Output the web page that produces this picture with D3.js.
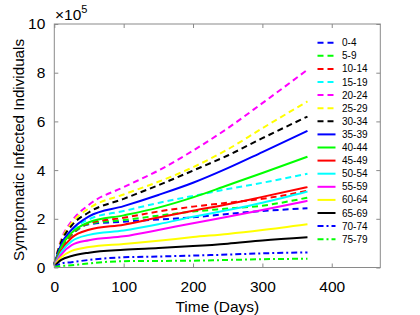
<!DOCTYPE html>
<html><head><meta charset="utf-8">
<script src="https://cdn.jsdelivr.net/npm/d3@7"></script>
<style>
body{margin:0;background:#fff;}
svg{display:block;font-family:"Liberation Sans",Arial,sans-serif;}
</style></head>
<body>
<svg id="c" width="420" height="315"></svg>
<script>
const days = [0,5,10,25,50,100,150,200,250,300,365];
const ageGroups = ["0-4","5-9","10-14","15-19","20-24","25-29","30-34","35-39","40-44","45-49","50-54","55-59","60-64","65-69","70-74","75-79"];
// values in units of 10^5
const s0_4   = [0.10,0.47,0.78,1.33,1.78,1.88,1.97,2.06,2.20,2.32,2.43];
const s5_9   = [0.11,0.48,0.80,1.35,1.80,1.95,2.13,2.30,2.42,2.54,2.87];
const s10_14 = [0.11,0.50,0.82,1.38,1.82,2.04,2.30,2.50,2.66,2.82,3.15];
const s15_19 = [0.12,0.55,0.88,1.50,1.98,2.32,2.65,2.94,3.22,3.48,3.85];
const s20_24 = [0.15,0.70,1.15,1.90,2.58,3.30,3.98,4.80,5.72,6.75,8.12];
const s25_29 = [0.15,0.68,1.10,1.82,2.43,3.00,3.52,4.12,4.85,5.72,6.82];
const s30_34 = [0.15,0.65,1.05,1.72,2.27,2.82,3.38,3.98,4.60,5.31,6.20];
const s35_39 = [0.13,0.58,0.95,1.55,2.10,2.52,2.98,3.48,4.08,4.74,5.61];
const s40_44 = [0.12,0.50,0.85,1.42,1.86,2.14,2.46,2.88,3.38,3.88,4.55];
const s45_49 = [0.10,0.42,0.70,1.22,1.55,1.76,2.05,2.33,2.60,2.90,3.30];
const s50_54 = [0.09,0.37,0.62,1.08,1.34,1.52,1.78,2.08,2.36,2.66,3.12];
const s55_59 = [0.08,0.32,0.53,0.92,1.12,1.28,1.54,1.82,2.08,2.36,2.74];
const s60_64 = [0.07,0.26,0.42,0.68,0.84,0.97,1.10,1.25,1.38,1.54,1.78];
const s65_69 = [0.06,0.20,0.31,0.47,0.61,0.73,0.80,0.88,0.98,1.11,1.24];
const s70_74 = [0.04,0.10,0.17,0.22,0.31,0.42,0.45,0.49,0.53,0.58,0.62];
const s75_79 = [0.02,0.04,0.06,0.09,0.17,0.26,0.27,0.28,0.31,0.34,0.36];
const seriesValues = [s0_4,s5_9,s10_14,s15_19,s20_24,s25_29,s30_34,s35_39,s40_44,s45_49,s50_54,s55_59,s60_64,s65_69,s70_74,s75_79];
const colors = ["#0000ff","#00ff00","#ff0000","#00ffff","#ff00ff","#ffff00","#000000","#0000ff","#00ff00","#ff0000","#00ffff","#ff00ff","#ffff00","#000000","#0000ff","#00ff00"];
const styles = ["dash","dash","dash","dash","dash","dash","dash","solid","solid","solid","solid","solid","solid","solid","dashdot","dashdot"];
const xTicks = [0,100,200,300,400];
const yTicks = [0,2,4,6,8,10];

const dashMap = {dash:"6,4", solid:null, dashdot:"6,3,2,3"};
const svg = d3.select("#c");
const L=54.3, R=380.3, T=24, B=267.5;
const x = d3.scaleLinear().domain([0,470]).range([L,R]);
const y = d3.scaleLinear().domain([0,10]).range([B,T]);
const axisColor = "#8a8a8a";
const fs = 15.5;

// series
const line = d3.line().x((d,i)=>x(days[i])).y(d=>y(d)).curve(d3.curveMonotoneX);
const g = svg.append("g");
seriesValues.forEach((vals,k)=>{
  g.append("path").attr("d",line(vals)).attr("fill","none")
   .attr("stroke",colors[k]).attr("stroke-width",2)
   .attr("stroke-dasharray",dashMap[styles[k]]);
});

// box
svg.append("rect").attr("x",L).attr("y",T).attr("width",R-L).attr("height",B-T)
  .attr("fill","none").attr("stroke",axisColor).attr("stroke-width",1);

// axes
const xa = svg.append("g").attr("transform",`translate(0,${B})`)
  .call(d3.axisBottom(x).tickValues(xTicks).tickSize(-4).tickPadding(10).tickFormat(d3.format("d")));
const xt = svg.append("g").attr("transform",`translate(0,${T})`)
  .call(d3.axisTop(x).tickValues(xTicks).tickSize(-4).tickFormat(""));
const ya = svg.append("g").attr("transform",`translate(${L},0)`)
  .call(d3.axisLeft(y).tickValues(yTicks).tickSize(-4).tickPadding(9).tickFormat(d3.format("d")));
const yr = svg.append("g").attr("transform",`translate(${R},0)`)
  .call(d3.axisRight(y).tickValues(yTicks).tickSize(-4).tickFormat(""));
[xa,xt,ya,yr].forEach(a=>{
  a.select(".domain").remove();
  a.selectAll(".tick line").attr("stroke",axisColor);
  a.selectAll("text").attr("fill","#000").style("font-size",fs+"px")
   .style("font-family",'"Liberation Sans",Arial,sans-serif');
});
xa.selectAll("text").attr("dy","0.95em");

// exponent
const ex = svg.append("text").attr("x",55).attr("y",19.5).style("font-size",fs+"px").attr("fill","#000");
ex.append("tspan").text("×10");
ex.append("tspan").attr("dy",-7).style("font-size","11px").text("5");

// axis labels
svg.append("text").attr("x",(L+R)/2).attr("y",311.5).attr("text-anchor","middle")
  .style("font-size",fs+"px").text("Time (Days)");
svg.append("text").attr("transform","translate(24,150) rotate(-90)").attr("text-anchor","middle")
  .style("font-size","15.2px").text("Symptomatic Infected Individuals");

// legend
const lg = svg.append("g");
ageGroups.forEach((name,k)=>{
  const yy = 42.7 + 13.1*k;
  lg.append("line").attr("x1",317.5).attr("x2",335.5).attr("y1",yy).attr("y2",yy)
    .attr("stroke",colors[k]).attr("stroke-width",2).attr("stroke-dasharray",dashMap[styles[k]]);
  lg.append("text").attr("x",342).attr("y",yy).attr("dy","0.35em")
    .style("font-size","10px").text(name);
});
</script>
</body></html>
